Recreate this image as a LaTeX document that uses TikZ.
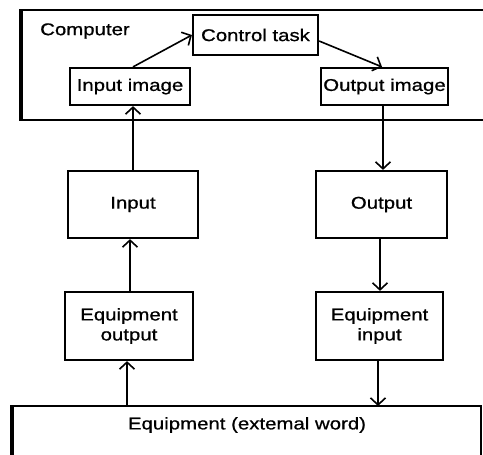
\documentclass[tikz,border=0pt]{standalone}
\usepackage{fontspec}
\setmainfont{Liberation Sans}[FakeStretch=1.2,FakeBold=0.8]
\usetikzlibrary{arrows.meta}
\begin{document}
\begin{tikzpicture}[x=1pt,y=-1pt,
  box/.style={draw,line width=2.2pt,inner sep=0pt,align=center,
    font=\fontsize{17}{20}\selectfont},
  lbl/.style={inner sep=0pt,font=\fontsize{17}{20}\selectfont},
  arr/.style={line width=1.6pt,-{Straight Barb[length=7pt,width=15pt,line width=1.6pt]}}]
\path[use as bounding box,clip] (0,0) rectangle (483,455);
\fill[white] (0,0) rectangle (483,455);
% Computer frame (open to the right)
\draw[line width=2.2pt] (495,10) -- (21,10) -- (21,120) -- (495,120);
\draw[line width=4pt] (21,9) -- (21,121);
\node[lbl] (comp) at (85,31) {Computer};
% world frame
\draw[line width=2.2pt] (12,470) -- (12,406) -- (481,406) -- (481,470);
\draw[line width=4pt] (12,405) -- (12,470);
\node[lbl] (world) at (247,425) {Equipment (extemal word)};
\coordinate (worldtop) at (247,406);
% boxes
\node[box,minimum width=125pt,minimum height=40pt] (ctrl) at (255.5,35) {Control task};
\node[box,minimum width=120pt,minimum height=37pt] (inimg) at (130,86.5) {Input image};
\node[box,minimum width=127pt,minimum height=37pt] (outimg) at (384.5,86.5) {Output image};
\node[box,minimum width=130pt,minimum height=67pt] (inp) at (133,204.5) {Input};
\node[box,minimum width=131pt,minimum height=67pt] (out) at (381.5,204.5) {Output};
\node[box,minimum width=128pt,minimum height=68pt] (eqout) at (129,326) {Equipment\\output};
\node[box,minimum width=127pt,minimum height=68pt] (eqin) at (379.5,326) {Equipment\\input};
% connectors
\draw[arr] (inimg.north -| 133,0) -- (ctrl.west);
\draw[arr] ([yshift=-6pt]ctrl.east) -- (outimg.north -| 382,0);
\draw[arr] (inp.north -| 133,0) -- (inimg.south -| 133,0);
\draw[arr] (outimg.south -| 383,0) -- (out.north -| 383,0);
\draw[arr] (eqout.north -| 130,0) -- (inp.south -| 130,0);
\draw[arr] (out.south -| 380,0) -- (eqin.north -| 380,0);
\draw[arr] (worldtop -| 127,0) -- (eqout.south -| 127,0);
\draw[arr] (eqin.south -| 378,0) -- (worldtop -| 378,0);
\end{tikzpicture}
\end{document}
